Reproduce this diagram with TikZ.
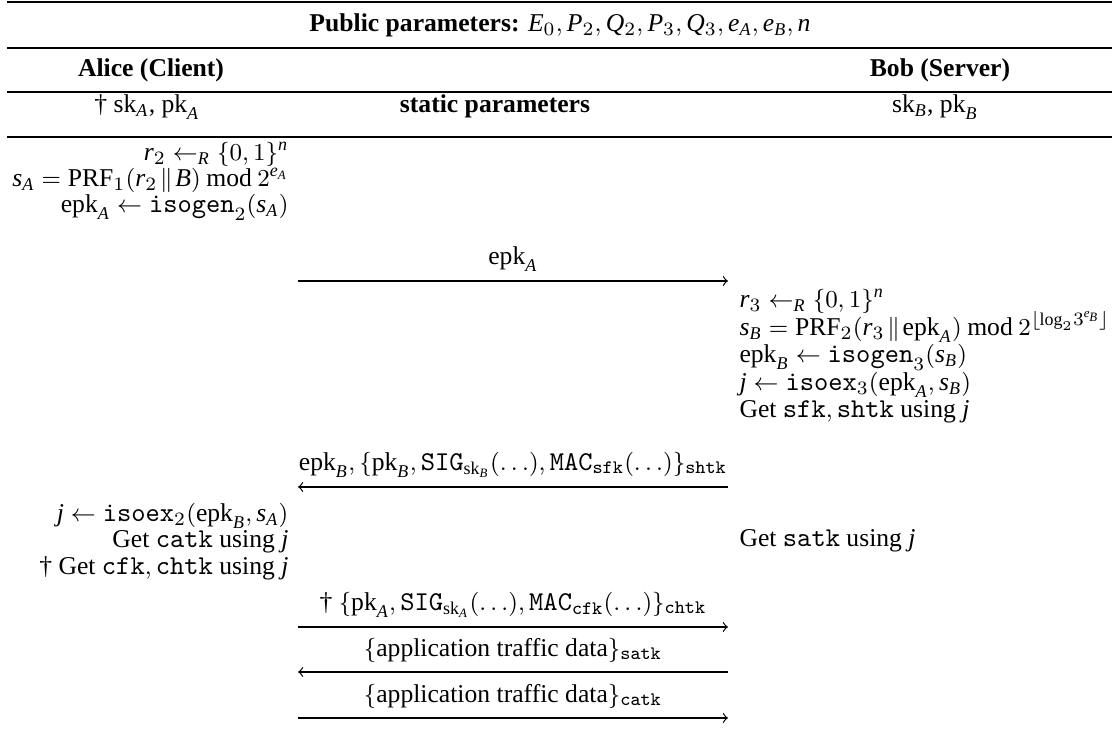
\documentclass[tikz,border=0pt]{standalone}
\usepackage{amsmath}
\usepackage{fontspec}
\setmainfont{Liberation Serif}
\setmonofont{Latin Modern Mono}[Scale=1.06]
\newcommand{\I}[1]{\mathit{#1}}
\newcommand{\cc}{\mkern2mu\|\mkern2mu}
\newcommand{\md}{\mkern4mu\mathrm{mod}\mkern4mu}
\begin{document}
\begin{tikzpicture}[x=0.3705pt,y=-0.3705pt,
  font=\fontsize{9.5}{11.5}\selectfont,
  txt/.style={inner sep=0pt, anchor=base},
  lft/.style={inner sep=0pt, anchor=base east},
  rgt/.style={inner sep=0pt, anchor=base west},
  toprl/.style={line width=1pt},
  midrl/.style={line width=0.6pt},
  arr/.style={line width=0.45pt, ->},
  lbl/.style={inner sep=0pt, above=3.3pt}]
\useasboundingbox (0,0) rectangle (1112,742);
% rules
\draw[toprl] (7,2) -- (1112,2);
\draw[midrl] (7,48) -- (1112,48);
\draw[midrl] (7,92) -- (1112,92);
\draw[midrl] (7,137) -- (1112,137);
% header
\node[txt] (pub) at (560,32) {\textbf{Public parameters:} $\I{E}_0, \I{P}_2, \I{Q}_2, \I{P}_3, \I{Q}_3, \I{e}_{\I{A}}, \I{e}_{\I{B}}, \I{n}$};
\node[txt] (alice) at (151,77) {\textbf{Alice (Client)}};
\node[txt] (bob) at (940,77) {\textbf{Bob (Server)}};
\node[txt] (ska) at (147,113) {\dag\ $\mathrm{sk}_{\I{A}}$, $\mathrm{pk}_{\I{A}}$};
\node[txt] (static) at (495,113) {\textbf{static parameters}};
\node[txt] (skb) at (935,113) {$\mathrm{sk}_{\I{B}}$, $\mathrm{pk}_{\I{B}}$};
% Alice block 1
\node[lft] (l1) at (289,161) {$\I{r}_2 \leftarrow_{\I{R}} \{0,1\}^{\I{n}}$};
\node[lft] (l2) at (289,187) {$\I{s}_{\I{A}} = \mathrm{PRF}_1(\I{r}_2 \cc \I{B}) \md 2^{\I{e}_{\I{A}}}$};
\node[lft] (l3) at (289,213) {$\mathrm{epk}_{\I{A}} \leftarrow \mathtt{isogen}_2(\I{s}_{\I{A}})$};
% message 1
\coordinate (m1a) at (298,281);
\coordinate (m1b) at (728,281);
\draw[arr] (m1a) -- node[lbl] (t1) {$\mathrm{epk}_{\I{A}}$} (m1b);
% Bob block
\node[rgt] (r1) at (739,308) {$\I{r}_3 \leftarrow_{\I{R}} \{0,1\}^{\I{n}}$};
\node[rgt] (r2) at (739,336) {$\I{s}_{\I{B}} = \mathrm{PRF}_2(\I{r}_3 \cc \mathrm{epk}_{\I{A}}) \md 2^{\lfloor\mkern-1mu \mathrm{log}_2 3^{\I{e}_{\I{B}}}\mkern-1mu \rfloor}$};
\node[rgt] (r3) at (739,363) {$\mathrm{epk}_{\I{B}} \leftarrow \mathtt{isogen}_3(\I{s}_{\I{B}})$};
\node[rgt] (r4) at (739,391) {$\I{j} \leftarrow \mathtt{isoex}_3(\mathrm{epk}_{\I{A}}, \I{s}_{\I{B}})$};
\node[rgt] (r5) at (739,418) {Get $\mathtt{sfk},\mathtt{shtk}$ using $\I{j}$};
% message 2
\coordinate (m2a) at (298,487);
\coordinate (m2b) at (728,487);
\draw[arr] (m2b) -- node[lbl] (t2) {$\mathrm{epk}_{\I{B}}, \{\mathrm{pk}_{\I{B}}, \mathtt{SIG}_{\mathrm{sk}_{\I{B}}}(\ldots), \mathtt{MAC}_{\mathtt{sfk}}(\ldots)\}_{\mathtt{shtk}}$} (m2a);
% Alice block 2
\node[lft] (l4) at (289,522) {$\I{j} \leftarrow \mathtt{isoex}_2(\mathrm{epk}_{\I{B}}, \I{s}_{\I{A}})$};
\node[lft] (l5) at (289,548) {Get $\mathtt{catk}$ using $\I{j}$};
\node[lft] (l6) at (289,575) {\dag\ Get $\mathtt{cfk},\mathtt{chtk}$ using $\I{j}$};
\node[rgt] (r6) at (739,547) {Get $\mathtt{satk}$ using $\I{j}$};
% message 3
\coordinate (m3a) at (298,627);
\coordinate (m3b) at (728,627);
\draw[arr] (m3a) -- node[lbl] (t3) {\dag\ $\{\mathrm{pk}_{\I{A}}, \mathtt{SIG}_{\mathrm{sk}_{\I{A}}}(\ldots), \mathtt{MAC}_{\mathtt{cfk}}(\ldots)\}_{\mathtt{chtk}}$} (m3b);
% message 4
\coordinate (m4a) at (298,672);
\coordinate (m4b) at (728,672);
\draw[arr] (m4b) -- node[lbl] (t4) {$\{$application traffic data$\}_{\mathtt{satk}}$} (m4a);
% message 5
\coordinate (m5a) at (298,718);
\coordinate (m5b) at (728,718);
\draw[arr] (m5a) -- node[lbl] (t5) {$\{$application traffic data$\}_{\mathtt{catk}}$} (m5b);
\end{tikzpicture}
\end{document}
